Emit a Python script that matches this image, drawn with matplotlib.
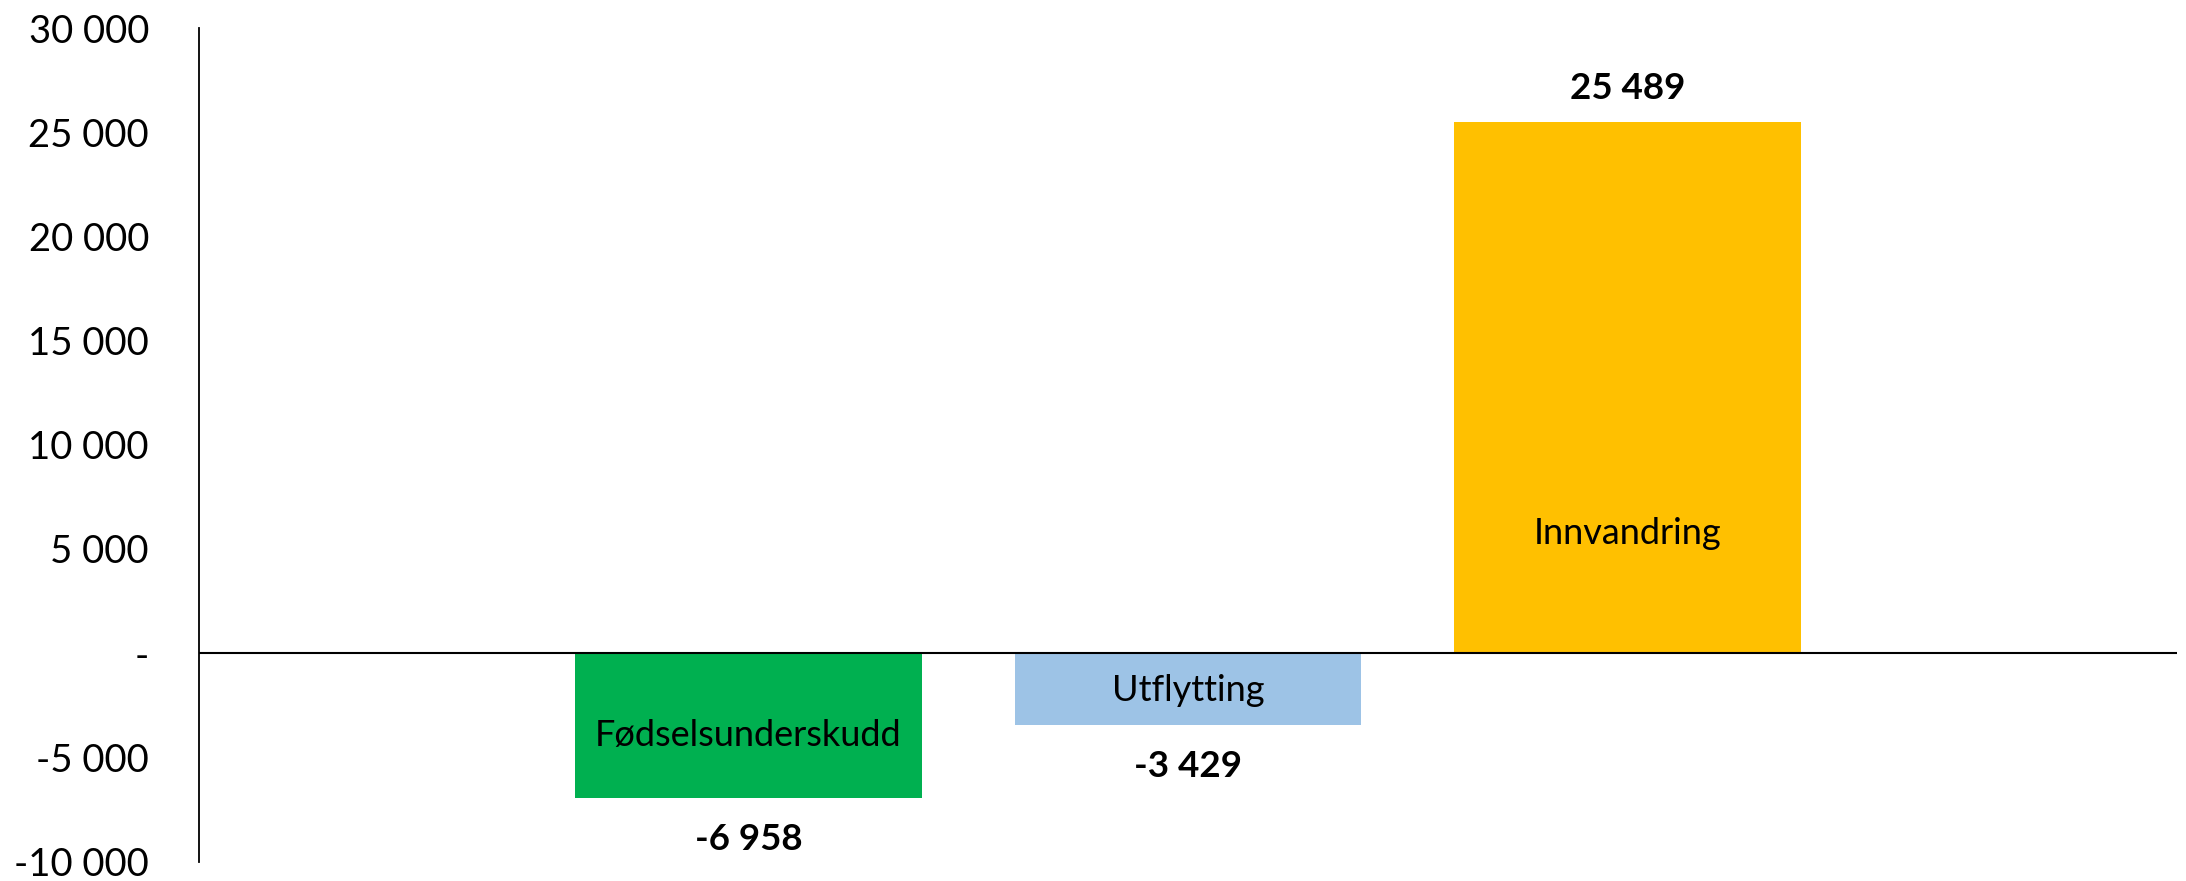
import matplotlib.pyplot as plt
from matplotlib.ticker import FuncFormatter

categories = ["Fødselsunderskudd", "Utflytting", "Innvandring"]
values = [-6958, -3429, 25489]
bar_colors = ["#00B050", "#9DC3E6", "#FFC000"]
# where the category name sits inside each bar (data units)
name_y = [-3940, -1800, 5760]

plt.rcParams["font.family"] = ["Lato", "DejaVu Sans"]

fig = plt.figure(figsize=(21.86, 8.81), dpi=100)
ax = fig.add_axes([0.091, 0.0221, 0.9049, 0.9461])

x = [1, 2, 3]
bars = ax.bar(x, values, width=0.788, color=bar_colors, zorder=2)

ax.set_xlim(-0.25, 4.25)
ax.set_ylim(-10000, 30000)
ax.set_yticks(range(-10000, 30001, 5000))


def fmt(v, pos=None):
    if v == 0:
        return "-"
    return f"{v:,.0f}".replace(",", " ")


ax.yaxis.set_major_formatter(FuncFormatter(fmt))
ax.tick_params(axis="y", length=0, pad=36, labelsize=27.5)
ax.set_xticks([])

for side in ["top", "right", "bottom"]:
    ax.spines[side].set_visible(False)
ax.spines["left"].set_linewidth(1.3)
ax.axhline(0, color="black", linewidth=1.5, zorder=3)

for b, v, name, ny in zip(bars, values, categories, name_y):
    cx = b.get_x() + b.get_width() / 2
    off = 24 if v > 0 else -30
    ax.annotate(fmt(v), (cx, v), xytext=(0, off), textcoords="offset points",
                ha="center", va="center", fontsize=26.5, fontweight="bold")
    ax.text(cx, ny, name, ha="center", va="center", fontsize=26)

plt.savefig("out.png", dpi=100)
